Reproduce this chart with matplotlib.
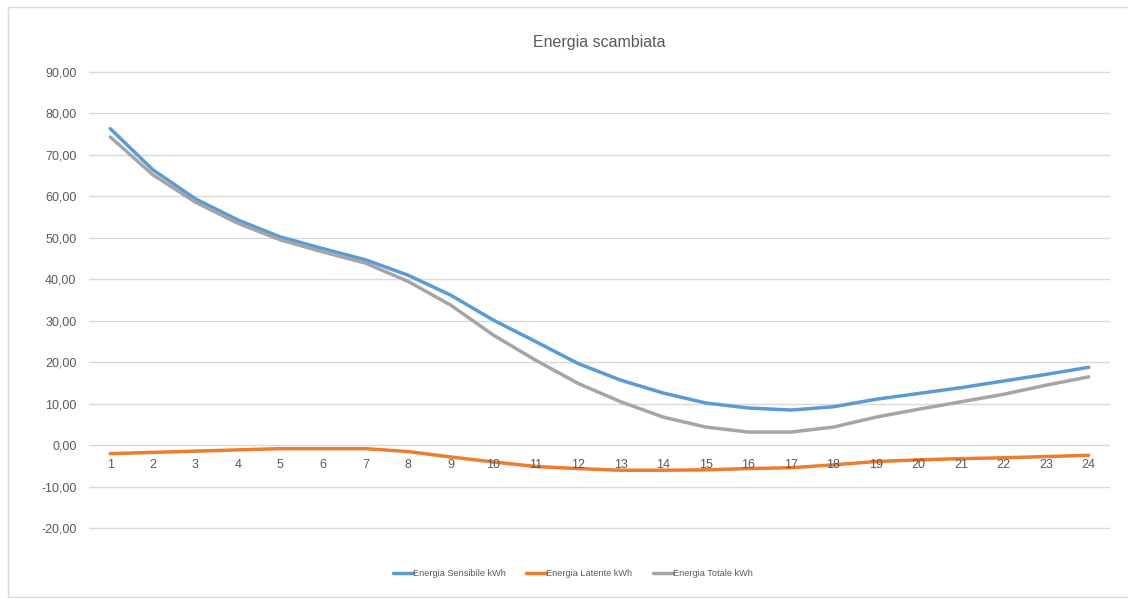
import matplotlib
matplotlib.use("Agg")
import matplotlib.pyplot as plt
from matplotlib.patches import Rectangle

plt.rcParams['font.family'] = ['Liberation Sans Narrow', 'Liberation Sans', 'DejaVu Sans']

# dati
ore = list(range(1, 25))
sensibile = [76.3, 66.4, 59.4, 54.3, 50.2, 47.4, 44.7, 41.0, 36.2, 30.2, 25.0, 19.7,
             15.7, 12.6, 10.2, 9.0, 8.5, 9.3, 11.1, 12.5, 13.9, 15.5, 17.1, 18.8]
latente = [-2.0, -1.7, -1.4, -1.1, -0.8, -0.8, -0.8, -1.5, -2.8, -4.0, -5.1, -5.6,
           -6.0, -6.0, -5.9, -5.6, -5.4, -4.7, -3.9, -3.5, -3.2, -3.0, -2.7, -2.4]
totale = [74.3, 65.2, 58.6, 53.5, 49.5, 46.6, 43.9, 39.5, 33.8, 26.6, 20.5, 14.9,
          10.5, 6.8, 4.4, 3.2, 3.2, 4.4, 6.8, 8.7, 10.5, 12.3, 14.5, 16.5]
y_ticks = [-20, -10, 0, 10, 20, 30, 40, 50, 60, 70, 80, 90]

serie = [
    ("Energia Sensibile kWh", sensibile, "#5B9BD5"),
    ("Energia Latente kWh", latente, "#ED7D31"),
    ("Energia Totale kWh", totale, "#A5A5A5"),
]

fig = plt.figure(figsize=(11.28, 5.99), dpi=100)
ax = fig.add_axes([89 / 1128, 1 - 530 / 599, (1110 - 89) / 1128, (530 - 71) / 599])

# cornice esterna
fig.patches.append(Rectangle((8 / 1128, 2 / 599), 1.2, 1 - 9 / 599, transform=fig.transFigure,
                             fill=False, edgecolor="#D9D9D9", linewidth=1))

for nome, valori, colore in serie:
    ax.plot(ore, valori, color=colore, linewidth=2.5, label=nome,
            solid_joinstyle="round", solid_capstyle="round", zorder=3)

ax.set_xlim(0.5, 24.5)
ax.set_ylim(-20.4, 90.2)
ax.set_yticks(y_ticks)
ax.set_yticklabels([f"{v:.2f}".replace(".", ",") for v in y_ticks])
ax.tick_params(axis="y", length=0, pad=9, labelsize=9, labelcolor="#595959")
ax.grid(axis="y", color="#D9D9D9", linewidth=1, zorder=0)
ax.set_xticks([])
for s in ax.spines.values():
    s.set_visible(False)

# etichette categorie vicino all'asse dello zero
for o in ore:
    ax.text(o, -3.4, str(o), ha="center", va="top", fontsize=9, color="#595959")

ax.set_title("Energia scambiata", fontsize=11.5, color="#595959", pad=17)

ax.legend(loc="center", bbox_to_anchor=(0.474, -0.095), ncol=3, frameon=False,
          fontsize=6.6, labelcolor="#595959", handlelength=2.2, handletextpad=0.0,
          columnspacing=2.2)

fig.savefig("out.png", dpi=100, facecolor="white")
